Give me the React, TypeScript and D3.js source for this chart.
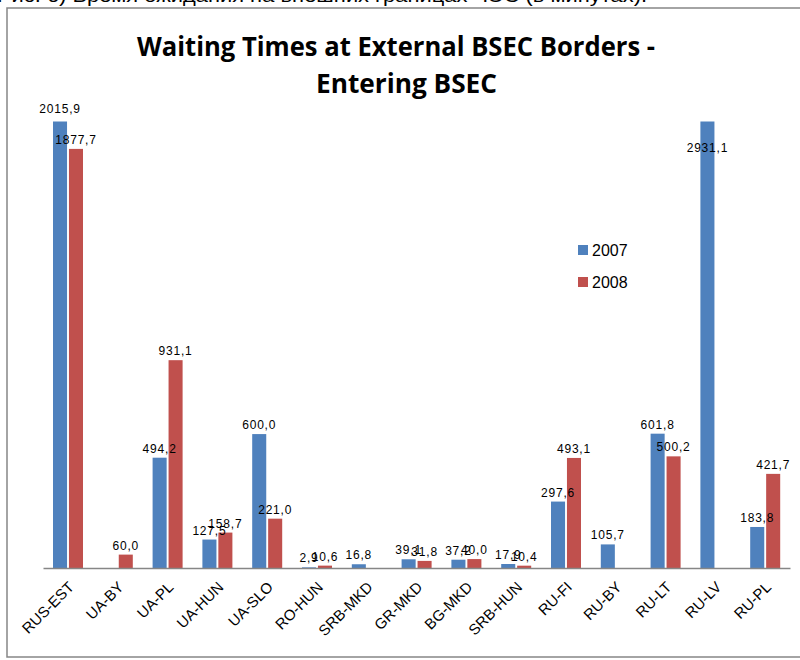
import React, { useEffect, useRef } from "react";
import * as d3 from "d3";

const borders = [
  "RUS-EST", "UA-BY", "UA-PL", "UA-HUN", "UA-SLO", "RO-HUN", "SRB-MKD", "GR-MKD",
  "BG-MKD", "SRB-HUN", "RU-FI", "RU-BY", "RU-LT", "RU-LV", "RU-PL",
];
const years = ["2007", "2008"];
const values2007 = [2015.9, null, 494.2, 127.5, 600.0, 2.9, 16.8, 39.1, 37.2, 17.9, 297.6, 105.7, 601.8, 2931.1, 183.8];
const values2008 = [1877.7, 60.0, 931.1, 158.7, 221.0, 10.6, null, 31.8, 40.0, 10.4, 493.1, null, 500.2, null, 421.7];
const yMax = 2000;

const colors = { "2007": "#4F81BD", "2008": "#C0504D" };

const App = () => {
  const svgRef = useRef(null);

  useEffect(() => {
    const width = 800;
    const height = 660;
    const left = 43, right = 790, base = 568, top = 121.6;

    const svg = d3.select(svgRef.current);
    svg.selectAll("*").remove();
    svg.attr("width", width).attr("height", height);

    // caption cut off at the top of the page
    svg.append("text")
      .attr("x", -3).attr("y", 2)
      .attr("font-family", "Liberation Sans, Arial, sans-serif")
      .attr("font-size", 19)
      .attr("textLength", 650)
      .attr("lengthAdjust", "spacingAndGlyphs")
      .text("Рис. 6) Время ожидания на внешних границах ЧЭС (в минутах).");

    // chart frame
    svg.append("rect")
      .attr("x", 7).attr("y", 8)
      .attr("width", 800).attr("height", 649)
      .attr("fill", "#fff")
      .attr("stroke", "#868686")
      .attr("stroke-width", 1.5);

    // title
    const title = svg.append("g")
      .attr("font-family", "Open Sans, sans-serif")
      .attr("font-weight", 700)
      .attr("font-size", 26)
      .attr("fill", "#000");
    title.append("text").attr("x", 137).attr("y", 56)
      .attr("textLength", 518).attr("lengthAdjust", "spacingAndGlyphs")
      .text("Waiting Times at External BSEC Borders -");
    title.append("text").attr("x", 316).attr("y", 93)
      .attr("textLength", 181).attr("lengthAdjust", "spacingAndGlyphs")
      .text("Entering BSEC");

    const x0 = d3.scaleBand().domain(borders).range([left, right]);
    const x1 = d3.scaleBand().domain(years).range([10, 40]).paddingInner(0.12);
    const y = d3.scaleLinear().domain([0, yMax]).range([base, top]);

    svg.append("clipPath").attr("id", "plot-clip")
      .append("rect")
      .attr("x", left).attr("y", top)
      .attr("width", right - left).attr("height", base - top);

    const rows = borders.flatMap((b, i) => [
      { border: b, year: "2007", value: values2007[i] },
      { border: b, year: "2008", value: values2008[i] },
    ]).filter((d) => d.value !== null);

    svg.append("g")
      .attr("clip-path", "url(#plot-clip)")
      .selectAll("rect")
      .data(rows)
      .join("rect")
      .attr("x", (d) => x0(d.border) + x1(d.year))
      .attr("y", (d) => y(d.value))
      .attr("width", x1.bandwidth())
      .attr("height", (d) => base - y(d.value))
      .attr("fill", (d) => colors[d.year]);

    // data labels
    svg.append("g")
      .attr("font-family", "Liberation Sans, Arial, sans-serif")
      .attr("font-size", 12)
      .attr("letter-spacing", 0.8)
      .attr("text-anchor", "middle")
      .attr("fill", "#000")
      .selectAll("text")
      .data(rows)
      .join("text")
      .attr("x", (d) => x0(d.border) + x1(d.year) + x1.bandwidth() / 2)
      .attr("y", (d) => {
        if (d.value > yMax * 1.2) return top + 30; // far off scale: label sits inside
        return Math.max(y(d.value), top) - (d.value > yMax ? 9 : 5);
      })
      .text((d) => d3.format(".1f")(d.value).replace(".", ","));

    // x axis
    const axis = svg.append("g")
      .attr("transform", `translate(0,${base})`)
      .call(d3.axisBottom(x0).tickSize(0).tickPadding(0));
    axis.select(".domain").attr("stroke", "#868686").attr("stroke-width", 1.3);
    axis.selectAll(".tick text")
      .attr("font-family", "Liberation Sans, Arial, sans-serif")
      .attr("font-size", 15)
      .attr("fill", "#000")
      .attr("text-anchor", "end")
      .attr("dy", null)
      .attr("y", 0)
      .attr("transform", "translate(7,20) rotate(-45)");

    // legend
    const legend = svg.append("g")
      .attr("font-family", "Liberation Sans, Arial, sans-serif")
      .attr("font-size", 16);
    years.forEach((yr, i) => {
      const g = legend.append("g").attr("transform", `translate(578,${245 + i * 32})`);
      g.append("rect").attr("width", 10).attr("height", 10).attr("fill", colors[yr]);
      g.append("text").attr("x", 14).attr("y", 11).attr("fill", "#000").text(yr);
    });
  }, []);

  return <svg ref={svgRef} style={{ position: "absolute", left: 0, top: 0 }}></svg>;
};

export default App;
